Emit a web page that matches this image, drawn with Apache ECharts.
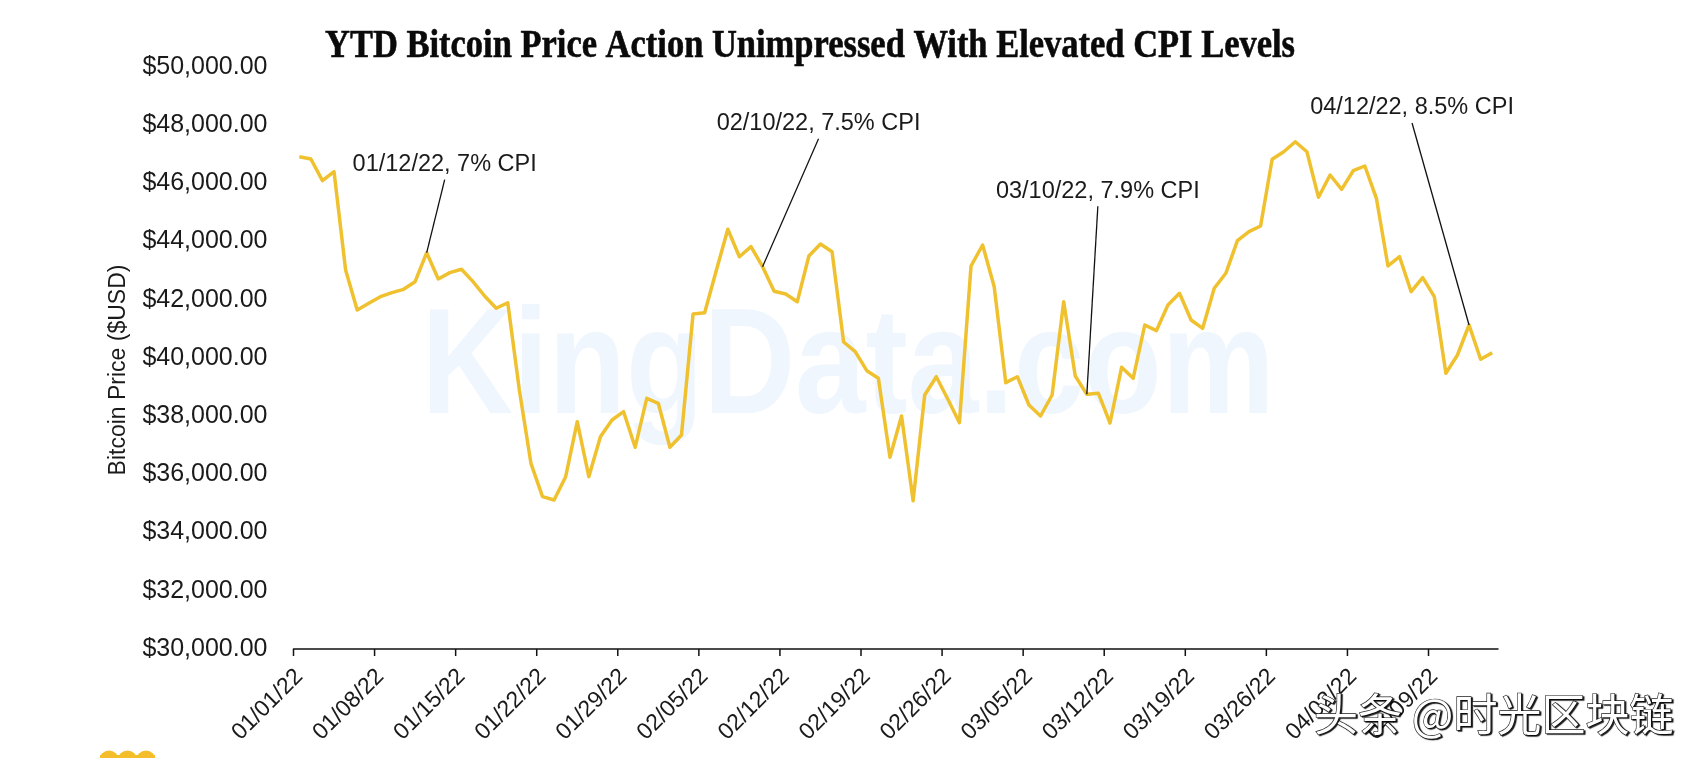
<!DOCTYPE html>
<html><head><meta charset="utf-8">
<script src="https://cdn.jsdelivr.net/npm/echarts@6/dist/echarts.min.js"></script>
<style>html,body{margin:0;padding:0;background:#fff}#c{width:1694px;height:758px}</style>
</head><body><div id="c"></div>
<script>
const dates = [
'01/01/22','01/02/22','01/03/22','01/04/22','01/05/22','01/06/22','01/07/22','01/08/22','01/09/22','01/10/22',
'01/11/22','01/12/22','01/13/22','01/14/22','01/15/22','01/16/22','01/17/22','01/18/22','01/19/22','01/20/22',
'01/21/22','01/22/22','01/23/22','01/24/22','01/25/22','01/26/22','01/27/22','01/28/22','01/29/22','01/30/22',
'01/31/22','02/01/22','02/02/22','02/03/22','02/04/22','02/05/22','02/06/22','02/07/22','02/08/22','02/09/22',
'02/10/22','02/11/22','02/12/22','02/13/22','02/14/22','02/15/22','02/16/22','02/17/22','02/18/22','02/19/22',
'02/20/22','02/21/22','02/22/22','02/23/22','02/24/22','02/25/22','02/26/22','02/27/22','02/28/22','03/01/22',
'03/02/22','03/03/22','03/04/22','03/05/22','03/06/22','03/07/22','03/08/22','03/09/22','03/10/22','03/11/22',
'03/12/22','03/13/22','03/14/22','03/15/22','03/16/22','03/17/22','03/18/22','03/19/22','03/20/22','03/21/22',
'03/22/22','03/23/22','03/24/22','03/25/22','03/26/22','03/27/22','03/28/22','03/29/22','03/30/22','03/31/22',
'04/01/22','04/02/22','04/03/22','04/04/22','04/05/22','04/06/22','04/07/22','04/08/22','04/09/22','04/10/22',
'04/11/22','04/12/22','04/13/22','04/14/22'
];
const prices = [
46918,46838,46093,46402,43024,41649,41880,42107,42245,42360,
42623,43619,42715,42933,43049,42623,42131,41708,41900,38900,
36381,35234,35120,35921,37811,35921,37296,37869,38155,36931,
38615,38443,36931,37354,41512,41557,43000,44423,43481,43825,
43137,42292,42199,41935,43505,43918,43654,40550,40217,39564,
39302,36588,38007,35096,38729,39357,38581,37777,43162,43883,
42450,39152,39357,38385,38007,38729,41935,39381,38752,38786,
37766,39680,39302,41134,40939,41821,42223,41306,41020,42395,
42911,44031,44341,44536,46828,47089,47433,47089,45522,46289,
45797,46436,46598,45488,43162,43481,42278,42760,42107,39474,
40103,41134,39955,40182
];
const yTicks = [30000,32000,34000,36000,38000,40000,42000,44000,46000,48000,50000];
const annotationDates = ['01/12/22','02/10/22','03/10/22','04/12/22'];
const annotationTexts = ['01/12/22, 7% CPI','02/10/22, 7.5% CPI','03/10/22, 7.9% CPI','04/12/22, 8.5% CPI'];
const titleText = 'YTD Bitcoin Price Action Unimpressed With Elevated CPI Levels';
const yAxisName = 'Bitcoin Price ($USD)';
const tickEvery = 7;

// layout (pixel offsets of leader-line tops relative to their points)
const leaderOffsets = [[18,-73],[56,-128],[11,-188],[-57,-202]];

const chart = echarts.init(document.getElementById('c'), null, {renderer:'canvas'});
const fmt = v => '$' + v.toLocaleString('en-US',{minimumFractionDigits:2, maximumFractionDigits:2});

function measure(text, font){
  const c = document.createElement('canvas').getContext('2d');
  c.font = font; return c.measureText(text).width;
}
const titleFont = 'bold 40px "Liberation Serif"';
const titleScale = 970 / measure(titleText, titleFont);
const wmFont = 'bold 150px "Liberation Sans"';
const wmScale = 853 / measure('KingData.com', wmFont);

chart.setOption({
  backgroundColor:'#ffffff',
  animation:false,
  grid:{left:293.5, right:196, top:67, bottom:109, outerBoundsMode:'none', containLabel:false},
  xAxis:{
    type:'category', data:dates, boundaryGap:true,
    axisLine:{show:true, lineStyle:{color:'#111', width:1.5}},
    axisTick:{show:false},
    axisLabel:{interval:tickEvery-1, rotate:45, margin:24, color:'#1a1a1a', fontSize:23, fontFamily:'Liberation Sans'},
    splitLine:{show:false}
  },
  yAxis:{
    type:'value', min:yTicks[0], max:yTicks[yTicks.length-1], interval:yTicks[1]-yTicks[0],
    name:yAxisName, nameLocation:'middle', nameGap:163, nameRotate:90,
    nameTextStyle:{color:'#1a1a1a', fontSize:23, fontFamily:'Liberation Sans', padding:[0,24,0,0]},
    axisLine:{show:false}, axisTick:{show:false}, splitLine:{show:false},
    axisLabel:{margin:26, color:'#1a1a1a', fontSize:25, fontFamily:'Liberation Sans', formatter:fmt}
  },
  series:[{
    type:'line', data:prices, symbol:'none', z:3,
    lineStyle:{color:'#F0C12E', width:3.5, join:'round'}
  }]
});

const g = [];
g.push({type:'text', z:0, x:848, y:372, scaleX:wmScale, silent:true,
  style:{text:'KingData.com', font:wmFont, fill:'#EFF6FE', textAlign:'center', textVerticalAlign:'middle'}});
g.push({type:'text', z:10, x:810, y:47, scaleX:titleScale,
  style:{text:titleText, font:titleFont, fill:'#0a0a0a', stroke:'#0a0a0a', lineWidth:0.6, textAlign:'center', textVerticalAlign:'middle'}});
// category boundary ticks every 7 days (from the axis scale)
const p0 = chart.convertToPixel({xAxisIndex:0}, 0), p1 = chart.convertToPixel({xAxisIndex:0}, 1);
const band = p1 - p0;
const axisY = chart.convertToPixel({yAxisIndex:0}, yTicks[0]);
for (let i = 0; i < dates.length; i += tickEvery) {
  const x = chart.convertToPixel({xAxisIndex:0}, i) - band/2;
  g.push({type:'line', z:10, shape:{x1:x, y1:axisY, x2:x, y2:axisY+7}, style:{stroke:'#111', lineWidth:1.5}});
}
annotationDates.forEach((d,i)=>{
  const idx = dates.indexOf(d);
  const p = chart.convertToPixel({seriesIndex:0}, [idx, prices[idx]]);
  const tx = p[0] + leaderOffsets[i][0], ty = p[1] + leaderOffsets[i][1];
  g.push({type:'line', z:10, shape:{x1:tx, y1:ty, x2:p[0], y2:p[1]}, style:{stroke:'#111', lineWidth:1.3}});
  g.push({type:'text', z:10, x:tx, y:ty-15,
    style:{text:annotationTexts[i], font:'23.5px "Liberation Sans"', fill:'#1a1a1a', textAlign:'center', textVerticalAlign:'middle'}});
});
// bottom-left logo fragment
[109,127.5,146].forEach(cx=>g.push({type:'circle', z:10, shape:{cx:cx, cy:760, r:9.5}, style:{fill:'#F4BE2A'}}));
g.push({type:'rect', z:10, shape:{x:100, y:755, width:55, height:5}, style:{fill:'#F4BE2A'}});
// platform watermark
g.push({type:'text', z:20, x:1314, y:714,
  style:{text:'头条 @时光区块链', font:'44px "Noto Sans CJK SC"', fill:'#ffffff', stroke:'#222', lineWidth:1.3,
    textAlign:'left', textVerticalAlign:'middle', textShadowColor:'rgba(0,0,0,0.85)', textShadowOffsetX:1.5, textShadowOffsetY:1.5, textShadowBlur:1}});
chart.setOption({graphic:g});
</script></body></html>
